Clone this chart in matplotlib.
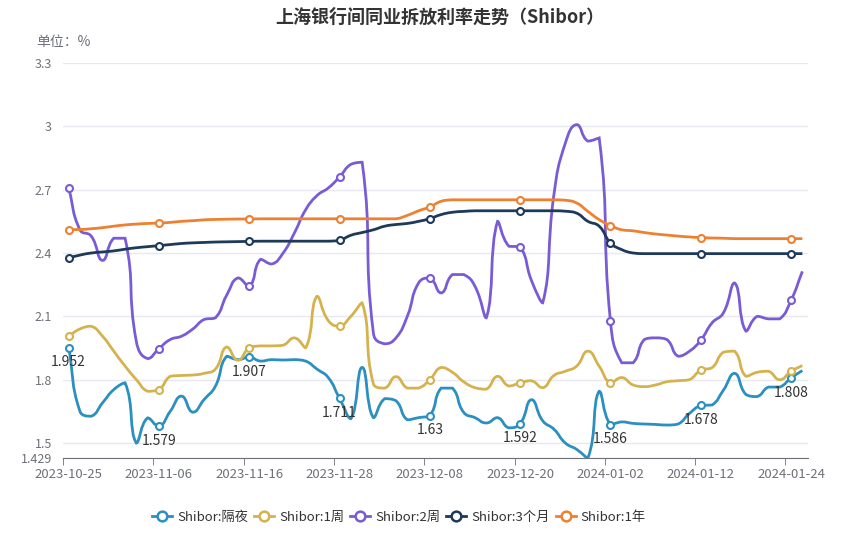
import numpy as np
import pandas as pd
from matplotlib import pyplot as plt
from matplotlib import rc
from matplotlib.path import Path
from matplotlib.patches import PathPatch
from matplotlib.lines import Line2D

rc('font', family=['Noto Sans CJK SC', 'DejaVu Sans'])
rc('axes', axisbelow=True)

# trading days 2023-10-25 .. 2024-01-25 (2024-01-01 holiday)
dates = [d.strftime('%Y-%m-%d') for d in pd.bdate_range('2023-10-25', '2024-01-25')
         if d.strftime('%Y-%m-%d') != '2024-01-01']

overnight = [1.952, 1.65, 1.627, 1.69, 1.753, 1.785, 1.50, 1.619, 1.579, 1.65,
             1.722, 1.646, 1.706, 1.769, 1.911, 1.895, 1.907, 1.888, 1.895, 1.893,
             1.895, 1.888, 1.85, 1.81, 1.711, 1.615, 1.858, 1.62, 1.71, 1.70,
             1.61, 1.62, 1.63, 1.76, 1.76, 1.645, 1.62, 1.595, 1.62, 1.572,
             1.592, 1.705, 1.605, 1.565, 1.50, 1.47, 1.429, 1.745, 1.586, 1.60,
             1.593, 1.59, 1.588, 1.585, 1.59, 1.64, 1.678, 1.68, 1.75, 1.83,
             1.73, 1.72, 1.765, 1.765, 1.808, 1.843]
week1 = [2.006, 2.04, 2.053, 2.006, 1.935, 1.864, 1.80, 1.745, 1.753, 1.816,
         1.82, 1.822, 1.83, 1.85, 1.955, 1.892, 1.951, 1.96, 1.96, 1.963,
         1.998, 1.951, 2.195, 2.08, 2.053, 2.10, 2.164, 1.78, 1.76, 1.814,
         1.76, 1.76, 1.80, 1.858, 1.835, 1.79, 1.762, 1.755, 1.816, 1.77,
         1.785, 1.795, 1.762, 1.82, 1.84, 1.864, 1.935, 1.864, 1.785, 1.81,
         1.775, 1.767, 1.775, 1.79, 1.795, 1.80, 1.845, 1.857, 1.93, 1.935,
         1.816, 1.835, 1.84, 1.80, 1.84, 1.867]
week2 = [2.708, 2.51, 2.48, 2.365, 2.47, 2.47, 1.98, 1.90, 1.947, 1.99,
         2.006, 2.04, 2.085, 2.093, 2.20, 2.282, 2.242, 2.37, 2.348, 2.40,
         2.495, 2.605, 2.672, 2.708, 2.76, 2.82, 2.83, 2.02, 1.97, 1.998,
         2.10, 2.258, 2.282, 2.211, 2.298, 2.298, 2.242, 2.093, 2.55, 2.432,
         2.43, 2.27, 2.164, 2.68, 2.92, 3.008, 2.93, 2.945, 2.077, 1.88,
         1.88, 1.99, 1.998, 1.99, 1.911, 1.935, 1.987, 2.069, 2.116, 2.258,
         2.03, 2.10, 2.088, 2.088, 2.176, 2.313]
month3 = [2.377, 2.39, 2.40, 2.405, 2.41, 2.418, 2.425, 2.43, 2.435, 2.44,
          2.445, 2.448, 2.45, 2.452, 2.453, 2.454, 2.455, 2.456, 2.456, 2.456,
          2.456, 2.456, 2.456, 2.456, 2.46, 2.484, 2.497, 2.51, 2.527, 2.535,
          2.54, 2.55, 2.563, 2.582, 2.593, 2.597, 2.60, 2.60, 2.60, 2.60,
          2.60, 2.60, 2.60, 2.60, 2.598, 2.589, 2.55, 2.527, 2.448, 2.416,
          2.40, 2.397, 2.397, 2.397, 2.397, 2.397, 2.397, 2.397, 2.397, 2.397,
          2.397, 2.397, 2.397, 2.397, 2.397, 2.397]
year1 = [2.511, 2.511, 2.515, 2.52, 2.527, 2.533, 2.537, 2.54, 2.542, 2.545,
         2.55, 2.553, 2.557, 2.559, 2.56, 2.561, 2.561, 2.562, 2.562, 2.562,
         2.562, 2.562, 2.562, 2.562, 2.562, 2.562, 2.562, 2.562, 2.562, 2.562,
         2.578, 2.60, 2.618, 2.645, 2.652, 2.652, 2.652, 2.652, 2.652, 2.652,
         2.652, 2.652, 2.652, 2.652, 2.65, 2.637, 2.597, 2.558, 2.53, 2.51,
         2.505, 2.497, 2.49, 2.485, 2.48, 2.476, 2.473, 2.471, 2.47, 2.468,
         2.468, 2.468, 2.468, 2.468, 2.468, 2.468]

names = ['Shibor:隔夜', 'Shibor:1周', 'Shibor:2周', 'Shibor:3个月', 'Shibor:1年']
colors = ['#2b8fc0', '#d4b34f', '#7a5bd6', '#1e3a5a', '#ee8131']
series = [overnight, week1, week2, month3, year1]

yticks = [1.5, 1.8, 2.1, 2.4, 2.7, 3.0, 3.3]
ymin, ymax = 1.429, 3.3


def smooth_path(xs, ys, sx, sy, smooth=0.5):
    # echarts-style bezier smoothing with control point clamping
    p = np.column_stack([np.asarray(xs, float) * sx, np.asarray(ys, float) * sy])
    n = len(p)
    cin = np.zeros_like(p)
    cout = np.zeros_like(p)
    for i in range(n):
        prev = p[i - 1] if i > 0 else p[i]
        nxt = p[i + 1] if i < n - 1 else p[i]
        v = nxt - prev
        d0 = np.hypot(*(p[i] - prev))
        d1 = np.hypot(*(nxt - p[i]))
        r = d1 / (d0 + d1) if d0 + d1 > 0 else 0.5
        c0 = p[i] - v * smooth * (1 - r)
        c1 = p[i] + v * smooth * r
        c0 = np.clip(c0, np.minimum(prev, p[i]), np.maximum(prev, p[i]))
        c1 = np.clip(c1, np.minimum(nxt, p[i]), np.maximum(nxt, p[i]))
        cin[i], cout[i] = c0, c1
    verts = [p[0]]
    codes = [Path.MOVETO]
    for i in range(n - 1):
        verts += [cout[i], cin[i + 1], p[i + 1]]
        codes += [Path.CURVE4] * 3
    verts = np.array(verts) / [sx, sy]
    return Path(verts, codes)


fig = plt.figure(figsize=(8.51, 5.39), dpi=100)
ax = fig.add_axes([63 / 851, 81 / 539, 745 / 851, 395 / 539])

n = len(dates)
x = np.arange(n)
sx = 745 / n
sy = 395 / (ymax - ymin)
mark_idx = x[::8]

for vals, name, c in zip(series, names, colors):
    path = smooth_path(x, vals, sx, sy)
    ax.add_patch(PathPatch(path, fill=False, edgecolor=c, lw=2, zorder=3))
    v = np.asarray(vals)
    ax.plot(mark_idx, v[mark_idx], ls='none', marker='o', ms=5, mfc='white',
            mec=c, mew=1.5, zorder=4)

for i in mark_idx:
    ax.annotate(f'{overnight[i]:g}', (i, overnight[i]), xytext=(0, -10.5),
                textcoords='offset points', ha='center', va='center',
                fontsize=10, color='#333333', zorder=5)

ax.set_xlim(-0.5, n - 0.5)
ax.set_ylim(ymin, ymax)
ax.set_yticks(yticks + [ymin])
ax.set_yticklabels([f'{t:g}' for t in yticks] + ['1.429'])
ax.grid(axis='y', color='#e6e9f0', lw=1)
ax.tick_params(axis='y', length=0, labelsize=9, labelcolor='#6e7079', pad=8)

ax.set_xticks(mark_idx)
ax.set_xticklabels([dates[i] for i in mark_idx])
ax.set_xticks(np.arange(-0.5, n, 8), minor=True)
ax.tick_params(axis='x', which='major', length=0, labelsize=9.5,
               labelcolor='#6e7079', pad=7)
ax.tick_params(axis='x', which='minor', length=5, color='#6e7079')

for s in ['top', 'right', 'left']:
    ax.spines[s].set_visible(False)
ax.spines['bottom'].set_color('#6e7079')

fig.text(440 / 851, 1 - 17 / 539, '上海银行间同业拆放利率走势（Shibor）',
         ha='center', va='center', fontsize=13, fontweight='bold', color='#333333')
fig.text(36 / 851, 1 - 42 / 539, '单位：%', ha='left', va='center',
         fontsize=10, color='#6e7079')

handles = [Line2D([0], [0], color=c, lw=2, marker='o', ms=7, mfc='white',
                  mec=c, mew=1.8) for c in colors]
fig.legend(handles, names, loc='center', bbox_to_anchor=(399 / 851, 1 - 517 / 539),
           ncol=5, frameon=False, fontsize=9.5, handlelength=1.5,
           handletextpad=0.4, columnspacing=0.45, labelcolor='#333333')

fig.savefig('out.png', dpi=100)
